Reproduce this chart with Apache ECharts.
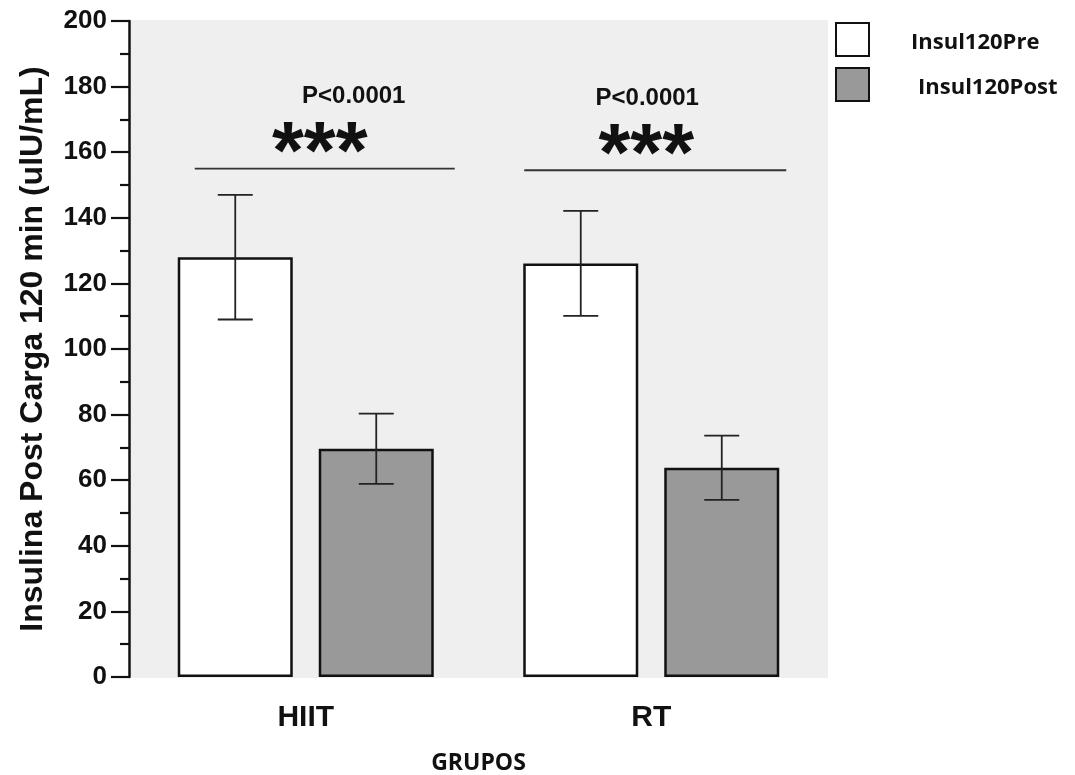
<!DOCTYPE html>
<html>
<head>
<meta charset="utf-8">
<title>Insulina Post Carga 120 min</title>
<script src="https://cdn.jsdelivr.net/npm/echarts@6/dist/echarts.min.js"></script>
<style>
  html, body { margin: 0; padding: 0; background: #ffffff; }
  #chart { width: 1075px; height: 775px; }
</style>
</head>
<body>
<div id="chart"></div>
<script>
// Groups and series values (uIU/mL), mean and error (SD)
const categories = ['HIIT', 'RT'];
const preMean = [128, 126.1];
const preErr = [19, 16];
const postMean = [69.6, 63.8];
const postErr = [10.7, 9.8];
// Significance bars: height on the y scale and the labels above them
const sigLevel = [155, 154.5];
const sigP = ['P<0.0001', 'P<0.0001'];
const sigStars = ['***', '***'];
const yTicks = { min: 0, max: 200, step: 20 };

const AXIS_FONT = '"Liberation Sans", Arial, Helvetica, sans-serif';
const LABEL_FONT = '"Open Sans", "Noto Sans", sans-serif';

// layout of the bars inside each group (px)
const BAR_W = 115;
const BAR_GAP_PX = 26;
const HALF_SPACING = BAR_W / 2 + BAR_GAP_PX / 2;
const CAP_W = 35;
// horizontal placement of the significance annotations relative to the group centre (px)
const sigLineSpan = [[-111, 149], [-127, 135]];
const starsShift = [14, -5];
const pShift = [48, -4];

const chart = echarts.init(document.getElementById('chart'), null, { renderer: 'canvas' });

function errorBarRenderer(means, errs, side) {
  return function (params, api) {
    const i = params.dataIndex;
    const top = api.coord([i, means[i] + errs[i]]);
    const bot = api.coord([i, means[i] - errs[i]]);
    const x = top[0] + side * HALF_SPACING;
    const style = { stroke: '#222', lineWidth: 1.8 };
    return {
      type: 'group',
      children: [
        { type: 'line', shape: { x1: x, y1: top[1], x2: x, y2: bot[1] }, style },
        { type: 'line', shape: { x1: x - CAP_W / 2, y1: top[1], x2: x + CAP_W / 2, y2: top[1] }, style },
        { type: 'line', shape: { x1: x - CAP_W / 2, y1: bot[1], x2: x + CAP_W / 2, y2: bot[1] }, style }
      ]
    };
  };
}

function sigRenderer(params, api) {
  const i = params.dataIndex;
  const p = api.coord([i, sigLevel[i]]);
  const cx = p[0];
  const y = p[1];
  return {
    type: 'group',
    children: [
      { type: 'line', shape: { x1: cx + sigLineSpan[i][0], y1: y, x2: cx + sigLineSpan[i][1], y2: y },
        style: { stroke: '#333', lineWidth: 1.8 } },
      { type: 'text', x: cx + starsShift[i], y: y + 28,
        style: { text: sigStars[i], fill: '#111', font: 'bold 82px ' + AXIS_FONT,
                 align: 'center', verticalAlign: 'bottom' } },
      { type: 'text', x: cx + pShift[i], y: y - 72,
        style: { text: sigP[i], fill: '#111', font: 'bold 24px ' + AXIS_FONT,
                 align: 'center', verticalAlign: 'middle' } }
    ]
  };
}

const option = {
  backgroundColor: '#ffffff',
  animation: false,
  graphic: [
    // grey plotting panel
    { type: 'rect', z: -100, shape: { x: 131, y: 20, width: 697, height: 658 },
      style: { fill: '#efefef' }, silent: true }
  ],
  legend: {
    orient: 'vertical',
    left: 835,
    top: 22,
    padding: 0,
    itemWidth: 33,
    itemHeight: 33,
    itemGap: 10,
    icon: 'rect',
    formatter: function (name) {
      return name === 'Insul120Post' ? '{post|' + name + '}' : '{pre|' + name + '}';
    },
    textStyle: {
      fontFamily: LABEL_FONT, fontWeight: 'bold', fontSize: 22, color: '#111',
      rich: {
        pre: { fontFamily: LABEL_FONT, fontWeight: 'bold', fontSize: 22, color: '#111', padding: [6, 0, 0, 37] },
        post: { fontFamily: LABEL_FONT, fontWeight: 'bold', fontSize: 22, color: '#111', padding: [6, 0, 0, 44] }
      }
    },
    data: ['Insul120Pre', 'Insul120Post']
  },
  grid: { left: 133, right: 251, top: 21, bottom: 98, outerBoundsMode: 'none', containLabel: false },
  xAxis: {
    type: 'category',
    data: categories,
    axisLine: { show: false },
    axisTick: { show: false },
    axisLabel: { fontFamily: AXIS_FONT, fontWeight: 'bold', fontSize: 30, color: '#111', margin: 26 },
    name: 'GRUPOS',
    nameLocation: 'middle',
    nameGap: 75,
    nameTextStyle: { fontFamily: LABEL_FONT, fontWeight: 'bold', fontSize: 23, color: '#111' }
  },
  yAxis: {
    type: 'value',
    min: yTicks.min,
    max: yTicks.max,
    interval: yTicks.step,
    offset: 4,
    splitLine: { show: false },
    axisLine: { show: true, lineStyle: { color: '#111', width: 2.5 } },
    axisTick: { show: true, length: 18, lineStyle: { color: '#111', width: 2.2 } },
    minorTick: { show: true, splitNumber: 2, length: 9, lineStyle: { color: '#111', width: 2.2 } },
    axisLabel: { fontFamily: AXIS_FONT, fontWeight: 'bold', fontSize: 26, color: '#111', margin: 22 },
    name: 'Insulina Post Carga 120 min (ulU/mL)',
    nameLocation: 'middle',
    nameGap: 80,
    nameTextStyle: { fontFamily: AXIS_FONT, fontWeight: 'bold', fontSize: 32, color: '#111' }
  },
  series: [
    {
      name: 'Insul120Pre',
      type: 'bar',
      data: preMean,
      barWidth: BAR_W,
      barGap: (BAR_GAP_PX / BAR_W * 100) + '%',
      itemStyle: { color: '#ffffff', borderColor: '#111', borderWidth: 2.5 }
    },
    {
      name: 'Insul120Post',
      type: 'bar',
      data: postMean,
      barWidth: BAR_W,
      itemStyle: { color: '#999999', borderColor: '#111', borderWidth: 2.5 }
    },
    {
      name: 'preError',
      type: 'custom',
      data: preMean.map((v, i) => [i, v]),
      renderItem: errorBarRenderer(preMean, preErr, -1),
      z: 5
    },
    {
      name: 'postError',
      type: 'custom',
      data: postMean.map((v, i) => [i, v]),
      renderItem: errorBarRenderer(postMean, postErr, 1),
      z: 5
    },
    {
      name: 'significance',
      type: 'custom',
      data: sigLevel.map((v, i) => [i, v]),
      renderItem: sigRenderer,
      z: 5
    }
  ]
};

chart.setOption(option);
</script>
</body>
</html>
